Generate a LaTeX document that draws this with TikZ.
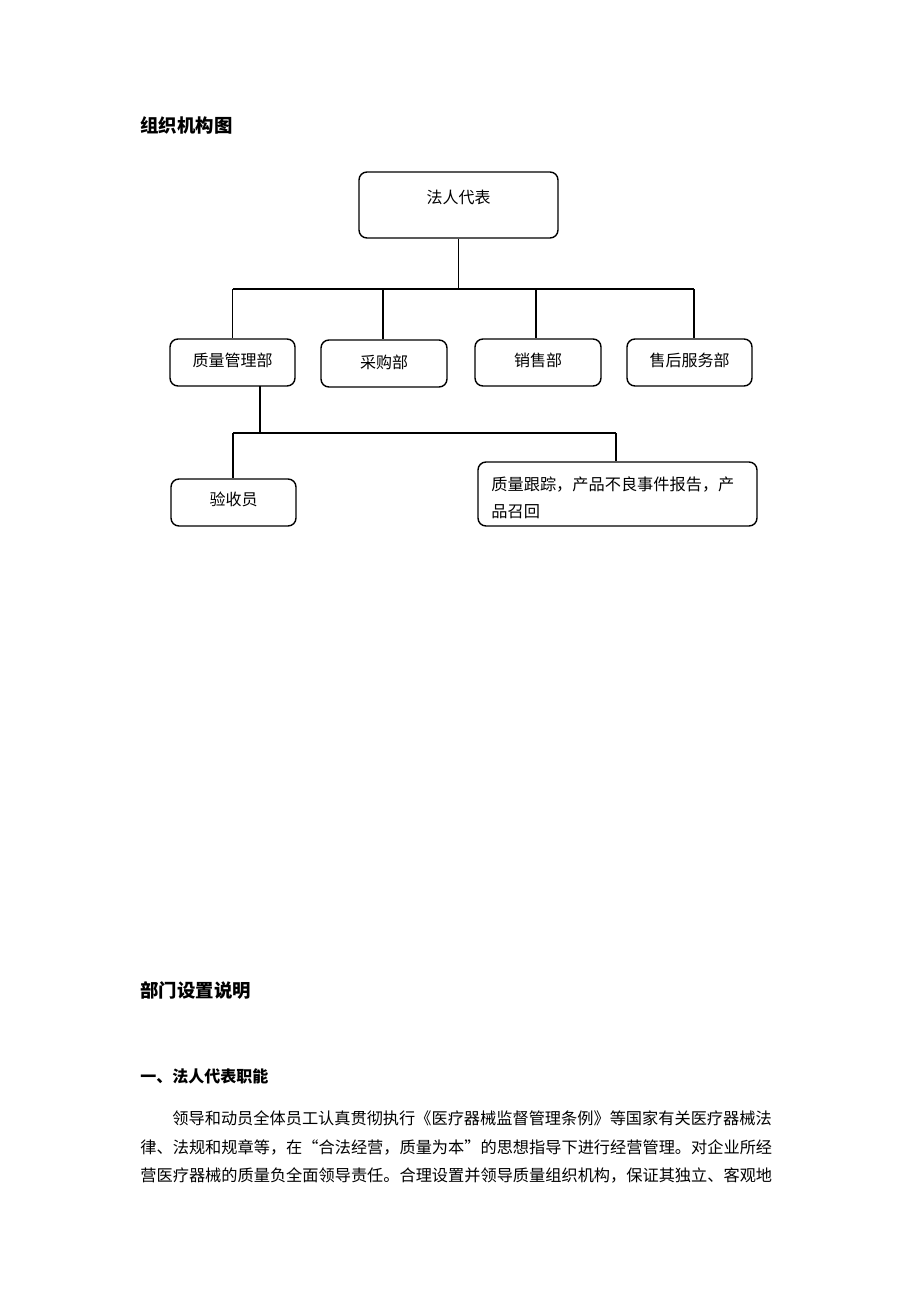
\documentclass[tikz,border=0pt]{standalone}
\usepackage{fontspec}
\setmainfont{Noto Sans CJK SC}
\usetikzlibrary{fit}
\begin{document}
\begin{tikzpicture}[x=0.5pt,y=-0.5pt,
  box/.style={draw, line width=0.7pt, rounded corners=4pt, inner sep=0pt},
  lbl/.style={inner sep=0pt, font=\fontsize{8pt}{10pt}\selectfont},
  head/.style={inner sep=0pt, anchor=west, font=\fontsize{9.2pt}{11pt}\selectfont\bfseries},
  para/.style={inner sep=0pt, anchor=west, font=\fontsize{8.1pt}{10pt}\selectfont},
  conn/.style={line width=0.7pt}]
\useasboundingbox[fill=white] (0,0) rectangle (920,1302);

\node[head] (t1) at (140,125) {组织机构图};

% boxes
\node[box, fit={(359,172) (558,238)}] (top) {};
\node[lbl] (ttop) at (458.5,197) {法人代表};

\node[box, fit={(170,339) (295,386)}] (q) {};
\node[lbl] (tq) at (232.5,360) {质量管理部};
\node[box, fit={(321,340) (447,387)}] (c) {};
\node[lbl] (tc) at (384,362) {采购部};
\node[box, fit={(475,339) (601,386)}] (s) {};
\node[lbl] (ts) at (538,360) {销售部};
\node[box, fit={(627,339) (752,386)}] (a) {};
\node[lbl] (ta) at (689.5,360) {售后服务部};

\node[box, fit={(171,479) (296,526)}] (y) {};
\node[lbl] (ty) at (233.5,499) {验收员};
\node[box, fit={(478,462) (757,526)}] (g) {};
\node[lbl, anchor=north west, align=left, font=\fontsize{8.1pt}{13.5pt}\selectfont] (tg) at (491,476) {质量跟踪，产品不良事件报告，产\\品召回};

% connectors
\coordinate (b0) at (458.5,289);
\coordinate (bq) at (232.5,289);
\coordinate (bc) at (383,289);
\coordinate (bs) at (536,289);
\coordinate (ba) at (694,289);
\draw[conn] (top.south) -- (b0);
\draw[conn] (bq) -- (ba);
\draw[conn] (bq) -- (q.north);
\draw[conn] (bc) -- (bc |- c.north);
\draw[conn] (bs) -- (bs |- s.north);
\draw[conn] (ba) -- (ba |- a.north);

\coordinate (q0) at (260,386);
\coordinate (q1) at (260,433);
\coordinate (by) at (233,433);
\coordinate (bg) at (616,433);
\draw[conn] (q0) -- (q1);
\draw[conn] (by) -- (bg);
\draw[conn] (by) -- (by |- y.north);
\draw[conn] (bg) -- (bg |- g.north);

% text below
\node[head] (t2) at (140,990) {部门设置说明};
\node[head, font=\fontsize{8pt}{10pt}\selectfont\bfseries] (t3) at (140,1076) {一、法人代表职能};
\node[para] (p1) at (172,1118) {领导和动员全体员工认真贯彻执行《医疗器械监督管理条例》等国家有关医疗器械法};
\node[para] (p2) at (140,1147) {律、法规和规章等，在“合法经营，质量为本”的思想指导下进行经营管理。对企业所经};
\node[para] (p3) at (140,1175) {营医疗器械的质量负全面领导责任。合理设置并领导质量组织机构，保证其独立、客观地};
\end{tikzpicture}
\end{document}
